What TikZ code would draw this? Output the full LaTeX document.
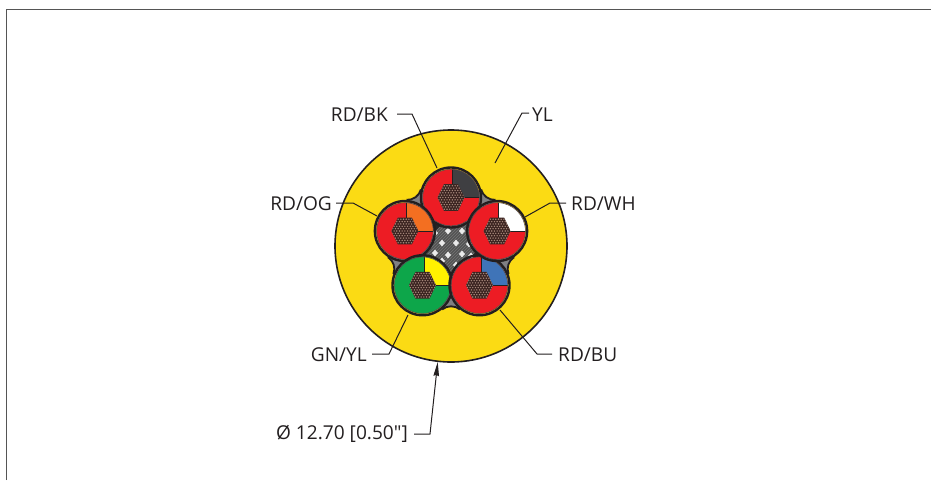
\documentclass[tikz,border=0pt]{standalone}
\usepackage{fontspec}
\newfontfamily\labfont{Open Sans}
\usetikzlibrary{arrows.meta}
\definecolor{jacket}{HTML}{FBDB14}
\definecolor{rd}{HTML}{ED1C24}
\definecolor{gn}{HTML}{0DA64A}
\definecolor{bu}{HTML}{3F74B8}
\definecolor{og}{HTML}{F36F21}
\definecolor{bk}{HTML}{3F3F42}
\definecolor{yl}{HTML}{FFF200}
\definecolor{fillgrey}{HTML}{808083}
\definecolor{ink}{HTML}{231F20}
\definecolor{frame}{HTML}{555555}
\definecolor{strand}{HTML}{3A2320}
\definecolor{strandlight}{HTML}{A58679}
\tikzset{
  lab/.style={font=\labfont\fontsize{19.1}{21}\selectfont,text=ink,inner sep=0pt},
  leader/.style={draw=ink,line width=1pt},
}
\newcommand{\corepic}[3]{%
  \begin{scope}[shift={(#1:48.5)}]
    \draw[ink,line width=2.4pt] (0,0) circle[radius=30];
    \fill[#2] (0,0) circle[radius=28.3];
    \begin{scope}
      \clip (0,0) circle[radius=28.3];
      \fill[#3] (1.5,0) rectangle (30,30);
      \draw[ink,line width=.7pt] (1.5,30) -- (1.5,0) -- (30,0);
    \end{scope}
    \draw[ink!80!white,line width=.5pt] (0,0) circle[radius=28.3];
    \begin{scope}
      \clip (-13.5,0) -- (-7,13.4) -- (7,13.4) -- (13.5,0) -- (7,-13.4) -- (-7,-13.4) -- cycle;
      \fill[strand] (-14,-14) rectangle (14,14);
      \foreach \j in {-6,...,6}{
        \foreach \i in {-6,...,6}{
          \fill[strandlight] ({\i*2.7+\j*1.35},{\j*2.35}) circle[radius=.8];
        }
      }
    \end{scope}
  \end{scope}%
}
\begin{document}
\begin{tikzpicture}[x=1pt,y=-1pt]
\useasboundingbox (0,0) rectangle (931,480);
\fill[white] (0,0) rectangle (931,480);
\draw[frame,line width=1.2pt] (6.3,480) -- (6.3,9.6) -- (931,9.6);
\begin{scope}[shift={(451,246)},yscale=-1]
  \fill[jacket] (0,0) circle[radius=116];
  \draw[ink,line width=1.6pt] (0,0) circle[radius=116];
  % grey filler between cores
  \fill[fillgrey] (90:48.5) -- (54:74.3) -- (18:48.5) -- (-18:74.3) -- (-54:48.5) -- (-90:74.3) -- (-126:48.5) -- (-162:74.3) -- (162:48.5) -- (126:74.3) -- cycle;
  \foreach \a in {54,126,198,270,342}{
    \fill[jacket] (\a:74.3) circle[radius=14];
    \draw[ink,line width=1.8pt] (\a:74.3) ++({\a+180-39.1}:14) arc[start angle={\a+180-39.1},end angle={\a+180+39.1},radius=14];
  }
  % central filler
  \begin{scope}
    \clip (0,0) circle[radius=30];
    \fill[black!85] (-30,-30) rectangle (30,30);
    \foreach \k in {-30,-28.5,...,30}{
      \draw[white!50!black,line width=.4pt] (\k-30,-30) -- (\k+30,30);
    }
    \foreach \x/\y in {-16/13,-3/15,11/15,-9/3,5/3,18/2,-16/-7,-3/-9,11/-8,5/-19,-9/-15,20/-10}{
      \fill[white!92!black] (\x-3,\y) -- (\x,\y+3.4) -- (\x+3,\y) -- (\x,\y-3.4) -- cycle;
    }
  \end{scope}
  \corepic{90}{rd}{bk}
  \corepic{162}{rd}{og}
  \corepic{234}{gn}{yl}
  \corepic{306}{rd}{bu}
  \corepic{18}{rd}{white}
\end{scope}
% labels
\node[lab,anchor=east] (bk) at (388,115) {RD/BK};
\node[lab,anchor=west] (ylab) at (532,115) {YL};
\node[lab,anchor=west] (wh) at (571,204) {RD/WH};
\node[lab,anchor=east] (ogl) at (332,204) {RD/OG};
\node[lab,anchor=east] (gy) at (367,355) {GN/YL};
\node[lab,anchor=west] (bul) at (558,355) {RD/BU};
\node[lab,anchor=east] (dia) at (408,434) {Ø 12.70 [0.50"]};
% leaders
\coordinate (bkA) at (397,114); \coordinate (bkB) at (412,114); \coordinate (bkC) at (437,168);
\coordinate (ylA) at (529,113); \coordinate (ylB) at (522,113); \coordinate (ylC) at (495,163);
\coordinate (whA) at (566,203); \coordinate (whB) at (550,203); \coordinate (whC) at (525,217);
\coordinate (ogA) at (336,203); \coordinate (ogB) at (353,203); \coordinate (ogC) at (377,216);
\coordinate (gyA) at (372,354); \coordinate (gyB) at (389,354); \coordinate (gyC) at (408,315);
\coordinate (buA) at (552,354); \coordinate (buB) at (537,354); \coordinate (buC) at (500,310);
\coordinate (diaA) at (414,434); \coordinate (diaB) at (430,434); \coordinate (diaC) at (437.7,362);
\draw[leader] (bkA) -- (bkB) -- (bkC);
\draw[leader] (ylA) -- (ylB) -- (ylC);
\draw[leader] (whA) -- (whB) -- (whC);
\draw[leader] (ogA) -- (ogB) -- (ogC);
\draw[leader] (gyA) -- (gyB) -- (gyC);
\draw[leader] (buA) -- (buB) -- (buC);
\draw[leader,-{Stealth[length=14pt,width=5.5pt,inset=1pt]}] (diaA) -- (diaB) -- (diaC);
\end{tikzpicture}
\end{document}
